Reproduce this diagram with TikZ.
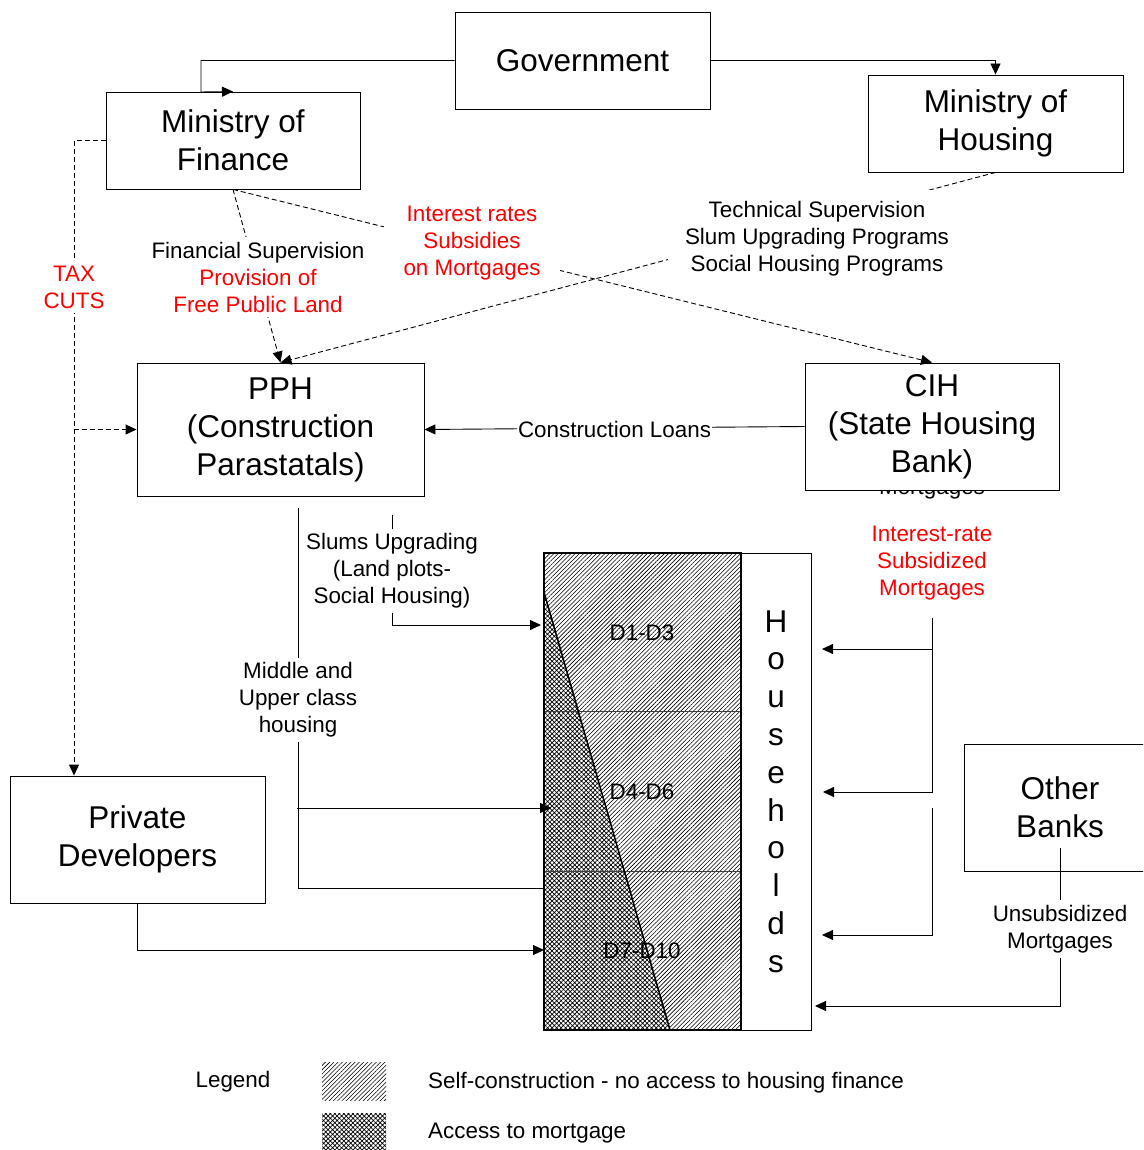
\documentclass[tikz,border=0pt]{standalone}
\usepackage{fontspec}
\setmainfont{Liberation Sans}
\usetikzlibrary{arrows.meta, patterns.meta, calc}
\definecolor{HsgRed}{HTML}{FF0000}
\definecolor{HsgBlack}{HTML}{000000}
\definecolor{HsgGrey}{HTML}{404040}
\newcommand{\bigfont}{\fontsize{31.5}{38}\selectfont}
\newcommand{\smallfont}{\fontsize{22.4}{27}\selectfont}
\tikzset{
    box/.style={
        draw=HsgBlack,
        fill=white,
        line width=0.9pt,
        text=HsgBlack,
        font=\bigfont,
        align=center,
        inner sep=0pt
    },
    linktext/.style={
        fill=white,
        text=HsgBlack,
        font=\smallfont,
        align=center,
        inner sep=5pt,
        yshift=-2pt
    },
    redtext/.style={
        linktext,
        text=HsgRed
    },
    legendtext/.style={
        font=\smallfont,
        anchor=west,
        inner sep=0pt
    },
    arrow/.style={
        -{Triangle[length=11pt,width=10pt]},
        line width=0.9pt,
        HsgBlack
    },
    plainline/.style={
        line width=0.9pt,
        HsgBlack
    },
    dasharrow/.style={
        arrow,
        dash pattern=on 5pt off 3pt
    },
    selfpat/.style={
        pattern={Lines[angle=45,distance=3pt,line width=0.6pt]}
    },
    mortpat/.style={
        pattern={Hatch[angle=45,distance=3.2pt,line width=0.7pt]}
    }
}

\begin{document}
\begin{tikzpicture}[x=1pt, y=-1pt]
    \path[use as bounding box, clip] (0,0) rectangle (1143,1150);

    % Ministries
    \node[box, minimum width=255pt, minimum height=97pt] (gov) at (582.5,60.5) {Government};
    \node[box, minimum width=254pt, minimum height=97pt] (mof) at (233,140.5) {Ministry of\\Finance};
    \node[box, minimum width=255pt, minimum height=97pt] (moh) at (995.5,123.5) {Ministry of\\Housing};

    % Parastatals and banks
    \node[font=\smallfont, anchor=base, inner sep=0pt] (cihmort) at (932,494) {Mortgages};
    \node[box, minimum width=287pt, minimum height=133pt] (pph) at (280.5,429.5) {PPH\\(Construction\\Parastatals)};
    \node[box, minimum width=254pt, minimum height=127pt] (cih) at (932,426.5) {CIH\\(State Housing\\Bank)};
    \node[box, minimum width=255pt, minimum height=127pt] (pd) at (137.5,839.5) {Private\\Developers};
    \node[box, minimum width=192pt, minimum height=127pt] (ob) at (1060,807.5) {Other\\Banks};

    % Households by decile
    \node[minimum width=197pt, minimum height=477pt, inner sep=0pt] (dec) at (642.5,791.5) {};
    \coordinate (cuttop) at (544,592);
    \coordinate (cutbot) at (670,1030);
    \fill[white] (dec.north west) rectangle (dec.south east);
    \fill[selfpat] (dec.north west) -- (dec.north east) -- (dec.south east) -- (cutbot) -- (cuttop) -- cycle;
    \fill[mortpat] (cuttop) -- (cutbot) -- (dec.south west) -- cycle;
    \draw[HsgGrey, line width=0.9pt] ($(dec.north west)!1/3!(dec.south west)$) -- ($(dec.north east)!1/3!(dec.south east)$);
    \draw[HsgGrey, line width=0.9pt] ($(dec.north west)!2/3!(dec.south west)$) -- ($(dec.north east)!2/3!(dec.south east)$);
    \draw[line width=1.5pt] (cuttop) -- (cutbot);
    \draw[line width=1.8pt] (dec.north west) rectangle (dec.south east);
    \node[font=\smallfont] (d13) at (642,633) {D1-D3};
    \node[font=\smallfont] (d46) at (642,792) {D4-D6};
    \node[font=\smallfont] (d710) at (642,951) {D7-D10};
    \node[box, minimum width=70pt, minimum height=477pt, font=\fontsize{31.5}{37.8}\selectfont] (hh) at (776,791.5) {H\\o\\u\\s\\e\\h\\o\\l\\d\\s};

    % Connector ends
    \coordinate (mofkink) at (201,92);
    \coordinate (taxx) at (74,140.5);
    \coordinate (pphmid) at (298,508);
    \coordinate (pphslum) at (392,515);
    \coordinate (midbranch) at (297,808);
    \coordinate (midin) at (551,808);
    \coordinate (upin) at (544,888);
    \coordinate (slumin) at (541,625);
    \coordinate (pdin) at (544,950);
    \coordinate (irtop) at (932,618);
    \coordinate (irlow) at (932,808);
    \coordinate (obtop) at (1060,848);
    \coordinate (hhin1) at (822,649);
    \coordinate (hhin2) at (823,792);
    \coordinate (hhin3) at (822,935);
    \coordinate (hhin4) at (815,1006);

    % Government lines
    \draw[arrow] (gov.west) -| (mofkink) -- (mof.north);
    \draw[arrow] (gov.east) -| (moh.north);

    % Supervision lines
    \draw[dasharrow] (moh.south) -- (pph.north);
    \draw[dasharrow] (mof.south) -- (cih.north);
    \draw[dasharrow] (mof.south) -- (pph.north);
    \draw[dasharrow] (mof.west) -- (taxx) -- (taxx |- pd.north);
    \draw[dasharrow] (taxx |- pph.west) -- (pph.west);
    \node[redtext] (taxcuts) at (74,285) {TAX\\CUTS};
    \node[linktext] (finsup) at (258,275) {Financial Supervision\\\textcolor{HsgRed}{Provision of}\\\textcolor{HsgRed}{Free Public Land}};
    \node[redtext, inner xsep=20pt] (intsub) at (472,241) {Interest rates\\Subsidies\\on Mortgages};
    \node[linktext, inner xsep=17pt, inner ysep=12pt] (techsup) at (817,237) {Technical Supervision\\Slum Upgrading Programs\\Social Housing Programs};
    \draw[arrow] (cih.west) -- node[linktext, inner sep=1pt, yshift=1pt] (conloans) {Construction Loans} (pph.east);

    % Flows to households
    \draw[plainline] (pphmid) |- (upin);
    \draw[arrow] (midbranch) -- (midin);
    \draw[arrow] (pphslum) |- (slumin);
    \draw[arrow] (pd.south) |- (pdin);
    \node[linktext] (midup) at (298,698) {Middle and\\Upper class\\housing};
    \node[linktext] (slums) at (392,569) {Slums Upgrading\\(Land plots-\\Social Housing)};

    \draw[arrow] (irtop) |- (hhin1);
    \draw[arrow] (irtop) |- (hhin2);
    \draw[arrow] (irlow) |- (hhin3);
    \draw[arrow] (obtop) |- (hhin4);
    \node[redtext] (irsub) at (932,561) {Interest-rate\\Subsidized\\Mortgages};
    \node[linktext] (unsub) at (1060,927) {Unsubsidized\\Mortgages};

    % Legend
    \node[font=\smallfont] (legend) at (233,1082) {Legend};
    \node[selfpat, minimum width=64pt, minimum height=38pt, inner sep=0pt] (swself) at (354,1081) {};
    \node[mortpat, minimum width=64pt, minimum height=37pt, inner sep=0pt] (swmort) at (354,1131.5) {};
    \node[legendtext] (lgself) at (428,1082.5) {Self-construction - no access to housing finance};
    \node[legendtext] (lgmort) at (428,1133.5) {Access to mortgage};
\end{tikzpicture}
\end{document}
